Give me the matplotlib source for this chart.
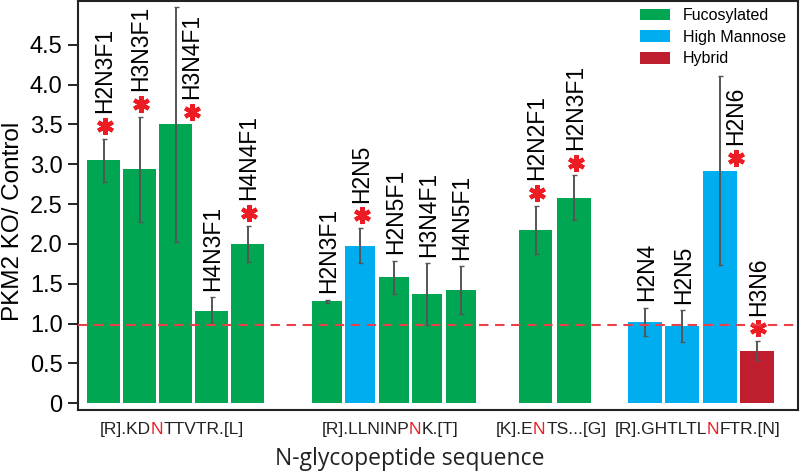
import matplotlib
matplotlib.use("Agg")
import matplotlib.pyplot as plt
from matplotlib.patches import Patch
from matplotlib.transforms import IdentityTransform

# ---------------- data ----------------
g1_labels = ['H2N3F1', 'H3N3F1', 'H3N4F1', 'H4N3F1', 'H4N4F1']
g1_values = [3.05, 2.94, 3.50, 1.16, 2.00]
g1_errs = [0.27, 0.66, 1.47, 0.17, 0.23]
g1_stars = [1, 1, 1, 0, 1]
g1_types = ['F', 'F', 'F', 'F', 'F']

g2_labels = ['H2N3F1', 'H2N5', 'H2N5F1', 'H3N4F1', 'H4N5F1']
g2_values = [1.28, 1.98, 1.58, 1.37, 1.42]
g2_errs = [0.02, 0.22, 0.21, 0.39, 0.30]
g2_stars = [0, 1, 0, 0, 0]
g2_types = ['F', 'H', 'F', 'F', 'F']

g3_labels = ['H2N2F1', 'H2N3F1']
g3_values = [2.18, 2.58]
g3_errs = [0.30, 0.28]
g3_stars = [1, 1]
g3_types = ['F', 'F']

g4_labels = ['H2N4', 'H2N5', 'H2N6', 'H3N6']
g4_values = [1.02, 0.97, 2.92, 0.66]
g4_errs = [0.18, 0.20, 1.19, 0.12]
g4_stars = [0, 0, 1, 1]
g4_types = ['H', 'H', 'H', 'Y']

seq_pre = ['[R].KD', '[R].LLNINP', '[K].E', '[R].GHTLTL']
seq_site = ['N', 'N', 'N', 'N']
seq_post = ['TTVTR.[L]', 'K.[T]', 'TS...[G]', 'FTR.[N]']

type_names = {'F': 'Fucosylated', 'H': 'High Mannose', 'Y': 'Hybrid'}
reference_level = 0.98
y_ticks = [0, 0.5, 1.0, 1.5, 2.0, 2.5, 3.0, 3.5, 4.0, 4.5]
y_ticklabels = ['0', '0.5', '1.0', '1.5', '2.0', '2.5', '3.0', '3.5', '4.0', '4.5']

# ---------------- layout / style ----------------
colors = {'F': '#00A651', 'H': '#00AEEF', 'Y': '#BE1E2D'}
star_color = '#ED1C24'
group_start = [0.71, 6.91, 12.71, 15.75]
group_pitch = [1.0, 0.93, 1.07, 1.037]
group_width = [0.92, 0.84, 0.94, 0.94]

groups = [
    (g1_labels, g1_values, g1_errs, g1_stars, g1_types),
    (g2_labels, g2_values, g2_errs, g2_stars, g2_types),
    (g3_labels, g3_values, g3_errs, g3_stars, g3_types),
    (g4_labels, g4_values, g4_errs, g4_stars, g4_types),
]

fig = plt.figure(figsize=(8, 4.75), dpi=100)
ax = fig.add_axes([78 / 800, 65 / 475, 720 / 800, 409 / 475])
ax.set_xlim(0, 20)
ax.set_ylim(-0.084, 5.05)

font = 'Liberation Sans'
group_centers = []
for gi, (labs, vals, errs, stars, types) in enumerate(groups):
    xs = [group_start[gi] + i * group_pitch[gi] for i in range(len(vals))]
    group_centers.append((xs[0] + xs[-1]) / 2)
    ax.bar(xs, vals, width=group_width[gi], color=[colors[t] for t in types],
           edgecolor='none', zorder=2)
    ax.errorbar(xs, vals, yerr=errs, fmt='none', ecolor='#555555',
                elinewidth=1.4, capsize=1.8, capthick=1.0, zorder=3)
    for x, v, e, s, lab in zip(xs, vals, errs, stars, labs):
        if e > 1.0:
            base = v
            lx = x + 0.45
        else:
            base = v + e
            lx = x + 0.04
        if s:
            ax.plot([lx], [base + 0.16], marker=(6, 2, 0), ms=12, mew=3.0,
                    color=star_color, zorder=4, clip_on=False)
            ly = base + 0.32
        else:
            ly = base + 0.08
        ax.text(lx, ly, lab, rotation=90, ha='center', va='bottom',
                fontsize=16.5, family=font, color='black', zorder=5)

ax.axhline(reference_level, color='#E8414B', lw=1.5, ls=(0, (4.5, 3.2)), zorder=4)

ax.set_yticks(y_ticks)
ax.set_yticklabels(y_ticklabels, fontsize=17, family=font)
ax.tick_params(axis='y', direction='out', length=7, width=1.2, pad=4, colors='black')
ax.set_xticks([])
for sp in ax.spines.values():
    sp.set_linewidth(1.5)
    sp.set_color('#222222')

fig.text(410 / 800, 1 - 459 / 475, 'N-glycopeptide sequence', ha='center', va='center',
         fontsize=16.5, family='Open Sans', color='#222222')
fig.text(13 / 800, 1 - 221 / 475, 'PKM2 KO/ Control', ha='center', va='center',
         rotation=90, fontsize=17.5, family=font, color='black')

handles = [Patch(facecolor=colors[k], edgecolor='none', label=type_names[k]) for k in ['F', 'H', 'Y']]
leg = ax.legend(handles=handles, loc='upper left', bbox_to_anchor=((640 - 78) / 720, 0.983),
                frameon=False, borderpad=0, borderaxespad=0, handlelength=1.9,
                handleheight=0.75, handletextpad=0.8, labelspacing=0.42,
                prop=dict(family=font, size=11.5))

# multi-coloured peptide labels, laid out in pixel space
renderer = fig.canvas.get_renderer()
label_y_px = 475 - 434
tp = dict(fontsize=12.5, family=font, va='baseline', ha='left')


def text_width(s):
    t = fig.text(0, 0, s, transform=IdentityTransform(), **tp)
    w = t.get_window_extent(renderer).width
    t.remove()
    return w


for gc, pre, site, post in zip(group_centers, seq_pre, seq_site, seq_post):
    cx = ax.transData.transform((gc - 0.1, 0))[0]
    full = pre + site + post
    w_full = text_width(full)
    off_site = text_width(pre + site) - text_width(site) - 0.8
    off_post = w_full - text_width(post)
    x0 = cx - w_full / 2
    fig.text(x0, label_y_px, pre, color='#222222', transform=IdentityTransform(), **tp)
    fig.text(x0 + off_site, label_y_px, site, color=star_color,
             transform=IdentityTransform(), **tp)
    fig.text(x0 + off_post, label_y_px, post, color='#222222',
             transform=IdentityTransform(), **tp)

fig.savefig('out.png', dpi=100)
